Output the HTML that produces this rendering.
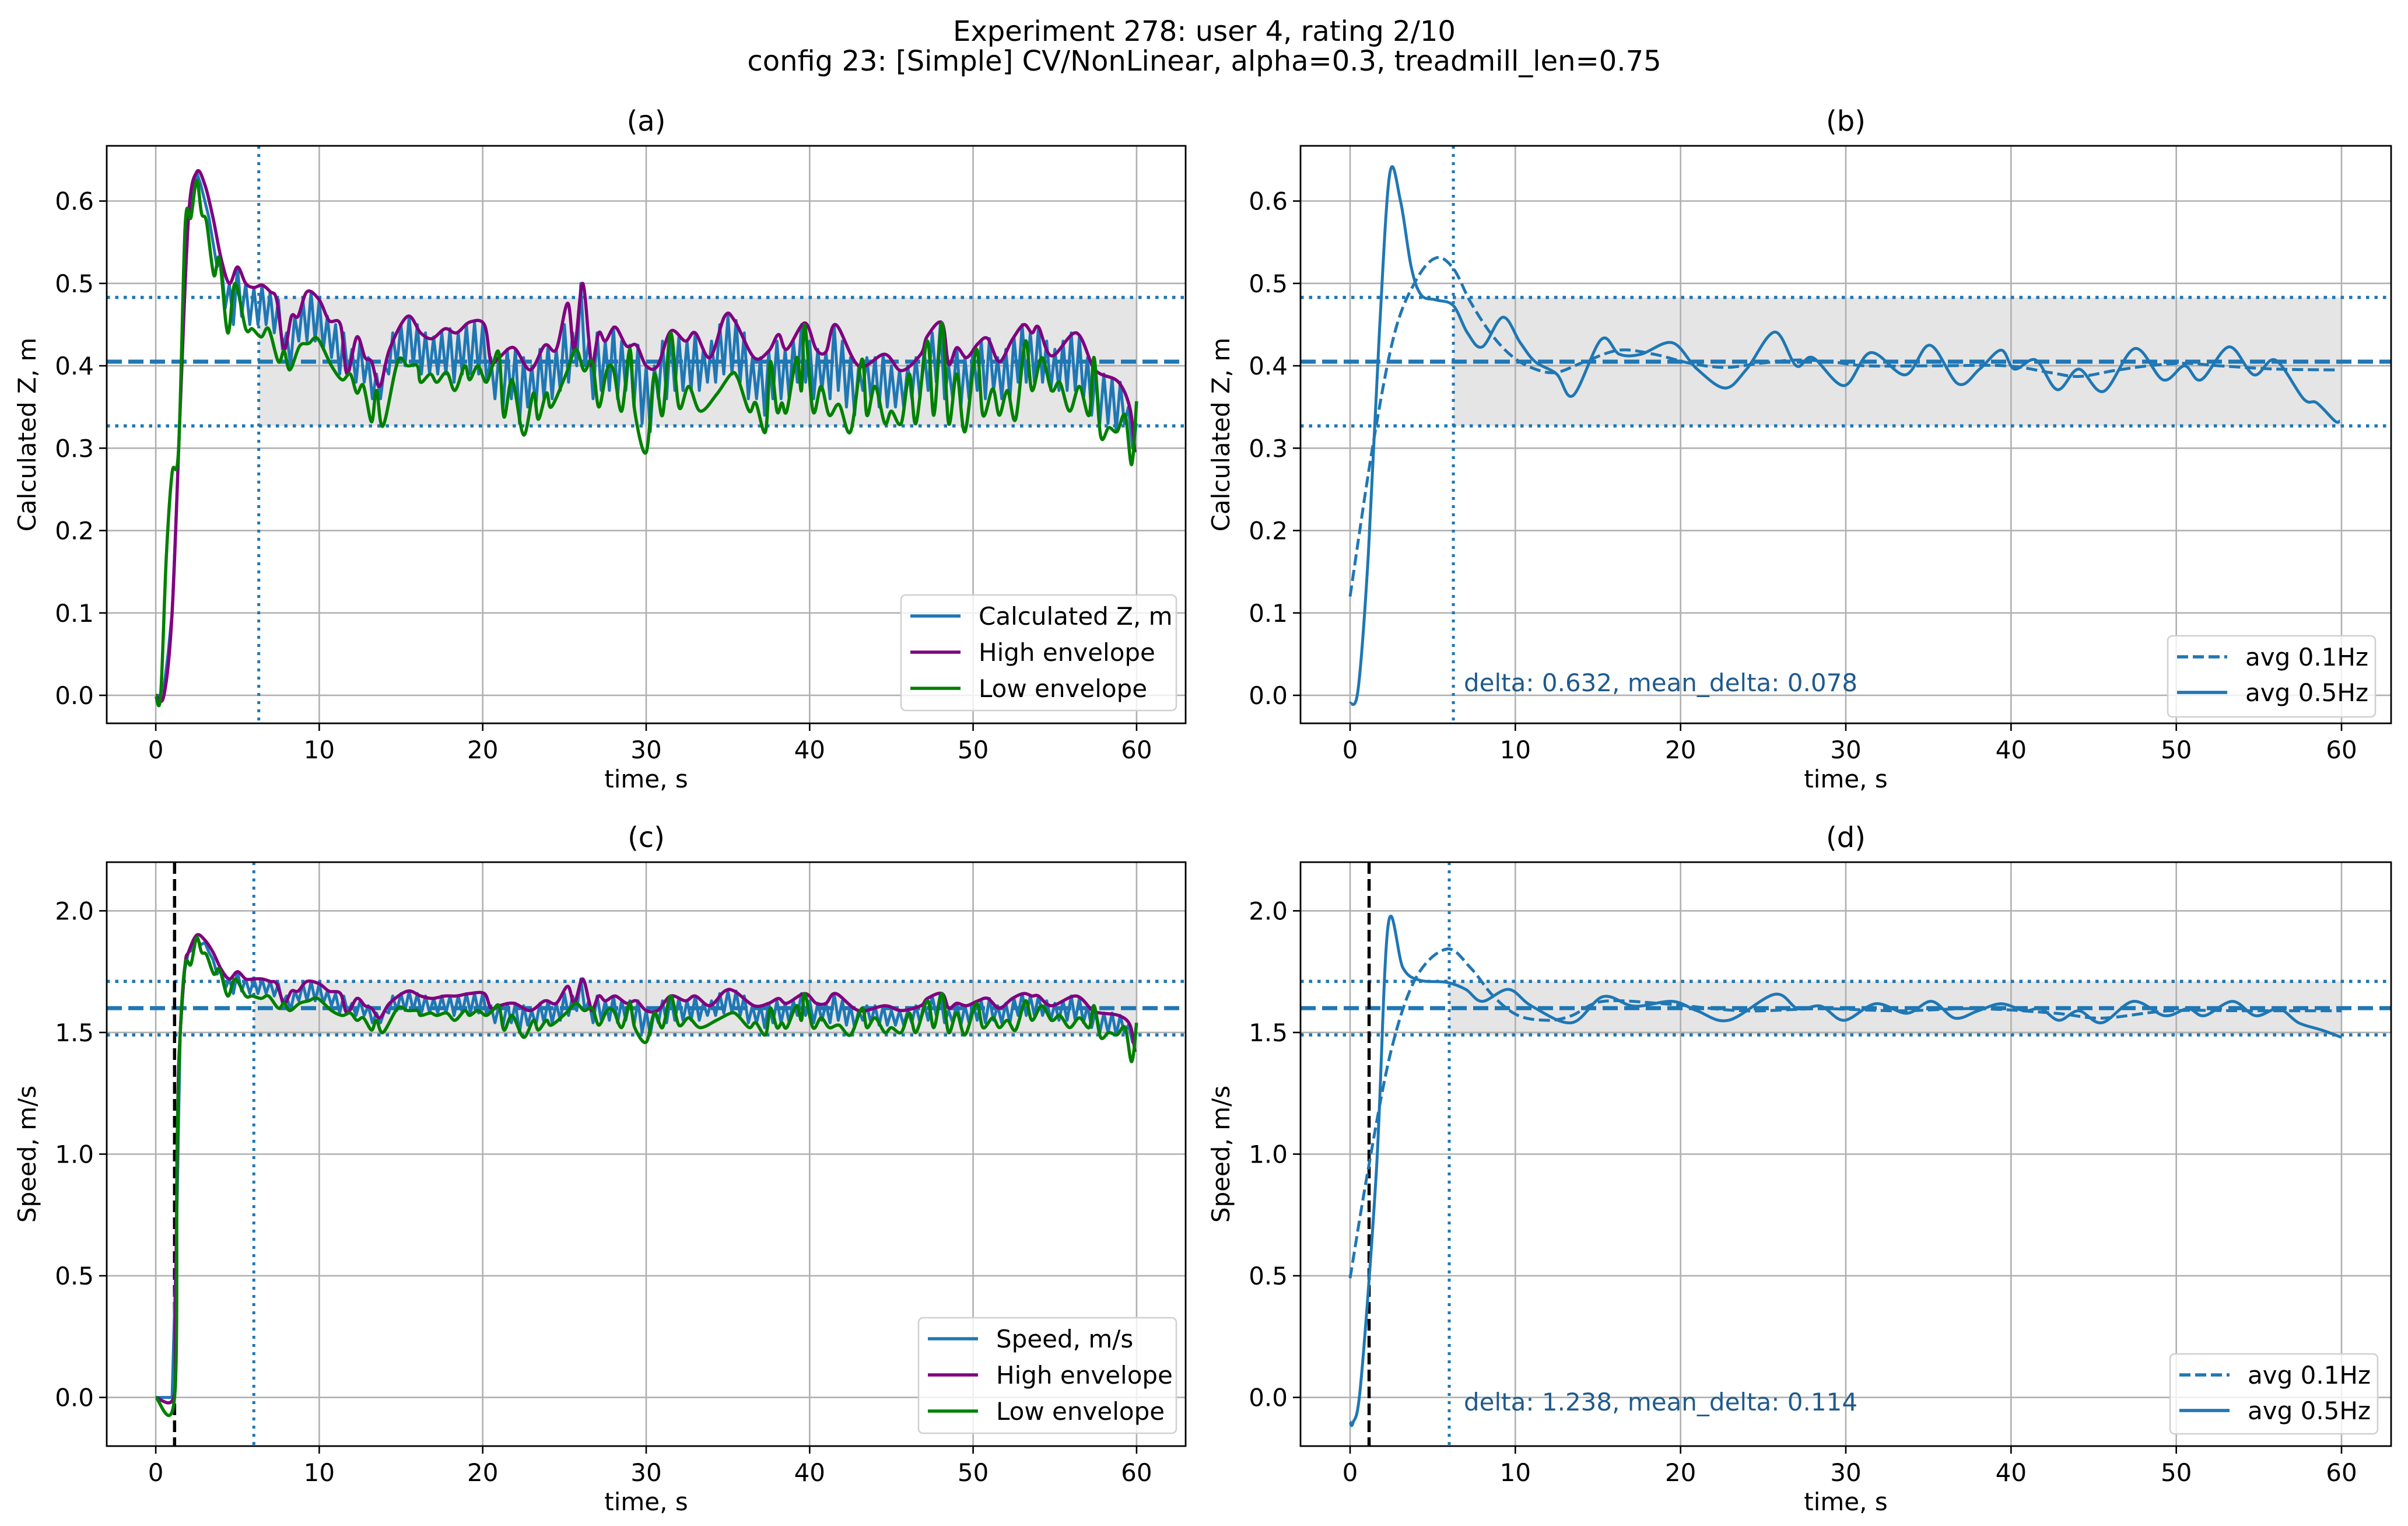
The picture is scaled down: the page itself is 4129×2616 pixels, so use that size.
<!DOCTYPE html>
<html><head><meta charset="utf-8">
<style>
html,body{margin:0;padding:0;background:#fff;}
svg{display:block;}
text{font-family:"DejaVu Sans","Liberation Sans",sans-serif;}
</style></head>
<body>
<svg id="fig" xmlns="http://www.w3.org/2000/svg" width="4129" height="2616" viewBox="0 0 4129 2616">
<rect width="4129" height="2616" fill="#fff"/>
<text x="2065" y="70" font-size="48" text-anchor="middle" fill="#000">Experiment 278: user 4, rating 2/10</text>
<text x="2065" y="121" font-size="48" text-anchor="middle" fill="#000">config 23: [Simple] CV/NonLinear, alpha=0.3, treadmill_len=0.75</text>
</svg>
<script>
// ---------- data ----------
const xTicks = [0,10,20,30,40,50,60];
const zTicks = [0.0,0.1,0.2,0.3,0.4,0.5,0.6];
const zTickLabels = ["0.0","0.1","0.2","0.3","0.4","0.5","0.6"];
const sTicks = [0.0,0.5,1.0,1.5,2.0];
const sTickLabels = ["0.0","0.5","1.0","1.5","2.0"];

const zStep = 0.25;
const calcZ = [0,0,0.01,0.05,0.1,0.22,0.35,0.48,0.58,0.6,0.635,0.62,0.6,0.58,0.55,0.52,
0.53,0.47,0.50,0.45,0.52,0.46,0.50,0.45,
0.495,0.45,0.498,0.45,0.49,0.44,0.48,0.42,
0.44,0.40,0.46,0.43,0.48,0.43,0.49,0.43,
0.48,0.42,0.46,0.41,0.45,0.39,0.44,0.39,
0.42,0.38,0.43,0.38,0.41,0.36,0.39,0.36,
0.40,0.39,0.44,0.40,0.45,0.40,0.46,0.40,
0.45,0.39,0.44,0.39,0.435,0.39,0.44,0.39,
0.445,0.38,0.44,0.39,0.45,0.39,0.453,0.39,
0.45,0.38,0.41,0.36,0.415,0.35,0.42,0.36,
0.42,0.33,0.41,0.35,0.40,0.35,0.42,0.36,
0.425,0.36,0.42,0.37,0.45,0.38,0.44,0.40,
0.50,0.40,0.43,0.36,0.44,0.37,0.43,0.37,
0.447,0.36,0.43,0.37,0.425,0.35,0.425,0.33,
0.40,0.32,0.40,0.36,0.43,0.36,0.44,0.37,
0.435,0.37,0.43,0.37,0.44,0.37,0.42,0.38,
0.43,0.38,0.45,0.39,0.46,0.39,0.455,0.38,
0.44,0.36,0.41,0.36,0.41,0.34,0.418,0.36,
0.43,0.36,0.42,0.36,0.43,0.38,0.45,0.38,
0.43,0.36,0.42,0.37,0.417,0.36,0.45,0.37,
0.43,0.35,0.41,0.34,0.40,0.37,0.41,0.36,
0.41,0.35,0.414,0.35,0.40,0.35,0.395,0.35,
0.40,0.36,0.41,0.36,0.42,0.37,0.44,0.38,
0.452,0.36,0.40,0.36,0.422,0.35,0.41,0.36,
0.42,0.37,0.43,0.36,0.433,0.37,0.41,0.36,
0.42,0.36,0.435,0.38,0.45,0.38,0.44,0.38,
0.447,0.38,0.43,0.37,0.42,0.37,0.43,0.37,
0.44,0.37,0.435,0.36,0.41,0.34,0.395,0.33,
0.39,0.33,0.385,0.32,0.38,0.33,0.35,0.30,
0.33];
const zHighEnv = [[0,0],[0.5,0],[1,0.1],[1.5,0.35],[2,0.58],[2.5,0.635],[3,0.62],[3.5,0.58],[4,0.53],[4.5,0.50],[5,0.52],[5.5,0.50],[6,0.495],[6.5,0.498],[7,0.49],[7.4,0.48],[7.85,0.42],[8.3,0.46],[8.7,0.46],[9.25,0.49],[10,0.48],[10.6,0.455],[11.3,0.45],[11.7,0.39],[12.3,0.435],[12.8,0.41],[13.2,0.405],[13.7,0.375],[14.3,0.42],[15.4,0.46],[16.2,0.44],[16.9,0.433],[17.7,0.445],[18.4,0.44],[19.2,0.453],[20.1,0.45],[20.5,0.405],[21,0.41],[21.9,0.422],[22.9,0.395],[23.8,0.425],[24.5,0.42],[25.2,0.476],[25.6,0.42],[26.1,0.50],[26.5,0.43],[26.7,0.40],[27.1,0.44],[27.5,0.43],[28.1,0.447],[28.8,0.424],[29.4,0.425],[30,0.40],[30.7,0.40],[31.5,0.442],[32.4,0.43],[33,0.44],[33.9,0.41],[34.8,0.46],[35.4,0.455],[36.6,0.41],[37.5,0.418],[38.1,0.438],[38.6,0.42],[39.7,0.452],[40.4,0.42],[41,0.417],[41.6,0.45],[43,0.40],[44.6,0.414],[45.6,0.394],[46.8,0.414],[47.2,0.436],[48.1,0.452],[48.5,0.402],[49,0.422],[49.6,0.41],[50.3,0.427],[50.9,0.433],[51.6,0.405],[52.4,0.432],[53.1,0.45],[53.6,0.44],[54,0.447],[54.8,0.412],[56.3,0.44],[57.3,0.40],[57.8,0.39],[58.9,0.38],[59.6,0.348],[59.9,0.295]];
const zLowEnv = [[0,0],[0.3,0],[0.65,0.17],[1.0,0.27],[1.4,0.30],[1.8,0.57],[2.15,0.58],[2.5,0.625],[2.8,0.585],[3.1,0.575],[3.55,0.51],[3.9,0.53],[4.4,0.44],[4.85,0.50],[5.5,0.445],[5.9,0.445],[6.45,0.435],[6.9,0.445],[7.5,0.405],[7.85,0.418],[8.2,0.395],[8.8,0.424],[9.35,0.427],[9.9,0.433],[10.75,0.40],[11.4,0.383],[11.9,0.39],[12.3,0.367],[12.7,0.376],[13.2,0.332],[13.5,0.37],[13.9,0.327],[14.8,0.405],[15.4,0.40],[16,0.40],[16.2,0.38],[16.8,0.39],[17.2,0.38],[17.8,0.392],[18.3,0.37],[18.9,0.40],[19.2,0.383],[19.7,0.40],[20.2,0.38],[20.6,0.40],[21,0.415],[21.3,0.338],[21.8,0.383],[22.5,0.316],[23.1,0.367],[23.4,0.335],[23.9,0.367],[24.2,0.35],[25.1,0.39],[25.7,0.42],[26.2,0.394],[26.7,0.405],[27.1,0.35],[27.6,0.395],[28,0.395],[28.5,0.345],[29,0.42],[29.3,0.345],[30,0.295],[30.5,0.39],[31,0.34],[31.5,0.44],[32,0.35],[32.6,0.375],[33.3,0.345],[34.3,0.365],[35.2,0.39],[35.6,0.385],[36.3,0.345],[36.7,0.355],[37.3,0.32],[37.6,0.405],[38,0.345],[38.3,0.355],[38.6,0.345],[39.2,0.41],[39.5,0.37],[39.7,0.45],[40.2,0.345],[40.7,0.375],[41.2,0.34],[41.8,0.353],[42.5,0.32],[43.2,0.408],[43.5,0.34],[44,0.375],[44.6,0.33],[45,0.345],[45.6,0.33],[46.1,0.39],[46.5,0.33],[47.2,0.43],[47.6,0.34],[48.1,0.452],[48.5,0.33],[49,0.39],[49.5,0.32],[50.2,0.42],[50.6,0.34],[51.2,0.372],[51.6,0.34],[52.1,0.37],[52.6,0.335],[53.2,0.43],[53.6,0.37],[54.2,0.41],[54.8,0.37],[55.3,0.38],[55.9,0.345],[56.5,0.375],[57.1,0.34],[57.4,0.41],[57.8,0.315],[58.3,0.325],[58.8,0.32],[59.3,0.34],[59.7,0.28],[60,0.357]];

const zAvg05 = [[0,-0.01],[0.49,0.008],[1.1,0.17],[1.77,0.44],[2.4,0.633],[3.05,0.6],[3.7,0.52],[4.3,0.486],[5.2,0.48],[6.25,0.473],[7.1,0.44],[8.0,0.423],[9.25,0.459],[10.3,0.428],[11.2,0.405],[12.5,0.39],[13.5,0.364],[15.2,0.432],[16.3,0.414],[17.6,0.414],[19.5,0.428],[21,0.396],[22.7,0.373],[24,0.396],[25.7,0.441],[27,0.40],[28,0.41],[29.9,0.376],[31.5,0.416],[33.6,0.389],[35.1,0.425],[36.8,0.378],[38.1,0.396],[39.4,0.419],[40.2,0.396],[41.5,0.407],[42.8,0.371],[44.1,0.396],[45.6,0.369],[47.5,0.421],[49.2,0.383],[50.5,0.40],[51.5,0.383],[53.2,0.423],[54.7,0.389],[56,0.407],[57.7,0.36],[58.5,0.355],[59.6,0.333],[59.9,0.333]];
const zAvg01 = [[0,0.12],[1.4,0.306],[2.7,0.44],[4.0,0.504],[5.2,0.531],[6.25,0.518],[7.3,0.477],[8.6,0.437],[9.9,0.41],[11.2,0.396],[12.5,0.392],[14.2,0.405],[16.3,0.419],[18.4,0.414],[20.6,0.403],[22.7,0.398],[24.8,0.403],[27,0.407],[29.1,0.405],[31.2,0.40],[35.5,0.40],[39.7,0.40],[42.3,0.392],[44.1,0.387],[46.2,0.394],[48.3,0.40],[50.5,0.403],[52.6,0.40],[56,0.396],[59.6,0.395]];
const zMean = 0.405, zBandLow = 0.327, zBandHigh = 0.483, zSettleTime = 6.3;

const sStep = 0.25;
const speed = [0,0,0,0,0,0.6,1.5,1.75,1.83,1.84,1.89,1.86,1.87,1.83,1.80,1.74,
1.76,1.68,1.72,1.66,1.75,1.67,1.72,1.66,
1.72,1.66,1.72,1.66,1.71,1.65,1.70,1.62,
1.65,1.59,1.67,1.63,1.70,1.63,1.71,1.63,
1.70,1.62,1.67,1.61,1.66,1.58,1.65,1.58,
1.62,1.57,1.63,1.57,1.61,1.54,1.58,1.54,
1.59,1.58,1.65,1.59,1.66,1.59,1.67,1.59,
1.66,1.58,1.65,1.58,1.64,1.58,1.65,1.58,
1.65,1.57,1.65,1.58,1.66,1.58,1.66,1.58,
1.66,1.57,1.61,1.54,1.61,1.53,1.62,1.54,
1.62,1.50,1.61,1.53,1.59,1.53,1.62,1.54,
1.63,1.54,1.62,1.55,1.66,1.57,1.65,1.59,
1.72,1.59,1.63,1.54,1.65,1.55,1.63,1.55,
1.65,1.54,1.63,1.55,1.63,1.53,1.63,1.50,
1.59,1.49,1.59,1.54,1.63,1.54,1.65,1.55,
1.64,1.55,1.63,1.55,1.65,1.55,1.62,1.57,
1.63,1.57,1.66,1.58,1.67,1.58,1.67,1.57,
1.65,1.54,1.61,1.54,1.61,1.52,1.62,1.54,
1.63,1.54,1.62,1.54,1.63,1.57,1.66,1.57,
1.63,1.54,1.62,1.55,1.62,1.54,1.66,1.55,
1.63,1.53,1.61,1.52,1.59,1.55,1.61,1.54,
1.61,1.53,1.61,1.53,1.59,1.53,1.59,1.53,
1.59,1.54,1.61,1.54,1.62,1.55,1.65,1.57,
1.66,1.54,1.59,1.54,1.62,1.53,1.61,1.54,
1.62,1.55,1.63,1.54,1.64,1.55,1.61,1.54,
1.62,1.54,1.64,1.57,1.66,1.57,1.65,1.57,
1.65,1.57,1.63,1.55,1.62,1.55,1.63,1.55,
1.65,1.55,1.64,1.54,1.61,1.52,1.59,1.50,
1.58,1.50,1.58,1.49,1.57,1.50,1.53,1.46,
1.50];
const sHighEnv = [[0,0],[1.1,0],[1.2,0.3],[1.35,1.2],[1.5,1.5],[1.8,1.78],[2.0,1.83],[2.5,1.90],[3,1.88],[3.5,1.83],[4,1.76],[4.5,1.72],[5,1.75],[5.5,1.72],[6,1.72],[6.5,1.72],[7,1.71],[7.4,1.70],[7.85,1.62],[8.3,1.67],[8.7,1.67],[9.25,1.71],[10,1.70],[10.6,1.67],[11.3,1.66],[11.7,1.58],[12.3,1.64],[12.8,1.61],[13.2,1.60],[13.7,1.56],[14.3,1.62],[15.4,1.67],[16.2,1.65],[16.9,1.64],[17.7,1.65],[18.4,1.65],[19.2,1.66],[20.1,1.66],[20.5,1.60],[21,1.61],[21.9,1.62],[22.9,1.59],[23.8,1.63],[24.5,1.62],[25.2,1.69],[25.6,1.62],[26.1,1.72],[26.5,1.63],[26.7,1.59],[27.1,1.65],[27.5,1.63],[28.1,1.65],[28.8,1.62],[29.4,1.63],[30,1.59],[30.7,1.59],[31.5,1.65],[32.4,1.63],[33,1.65],[33.9,1.61],[34.8,1.67],[35.4,1.67],[36.6,1.61],[37.5,1.62],[38.1,1.64],[38.6,1.62],[39.7,1.66],[40.4,1.62],[41,1.62],[41.6,1.66],[43,1.59],[44.6,1.61],[45.6,1.59],[46.8,1.61],[47.2,1.64],[48.1,1.66],[48.5,1.60],[49,1.62],[49.6,1.61],[50.3,1.63],[50.9,1.64],[51.6,1.60],[52.4,1.64],[53.1,1.66],[53.6,1.65],[54,1.65],[54.8,1.61],[56.3,1.65],[57.3,1.59],[57.8,1.58],[58.9,1.57],[59.6,1.53],[59.9,1.42]];
const sLowEnv = [[0,0],[1.15,0],[1.3,1.0],[1.5,1.5],[1.8,1.78],[2.15,1.78],[2.5,1.89],[2.8,1.83],[3.1,1.82],[3.55,1.74],[3.9,1.76],[4.4,1.65],[4.85,1.72],[5.5,1.65],[5.9,1.65],[6.45,1.64],[6.9,1.65],[7.5,1.60],[7.85,1.62],[8.2,1.59],[8.8,1.62],[9.35,1.63],[9.9,1.64],[10.75,1.59],[11.4,1.57],[11.9,1.58],[12.3,1.55],[12.7,1.56],[13.2,1.51],[13.5,1.55],[13.9,1.50],[14.8,1.60],[15.4,1.59],[16,1.59],[16.2,1.57],[16.8,1.58],[17.2,1.57],[17.8,1.58],[18.3,1.55],[18.9,1.59],[19.2,1.57],[19.7,1.59],[20.2,1.57],[20.6,1.59],[21,1.61],[21.3,1.51],[21.8,1.57],[22.5,1.48],[23.1,1.55],[23.4,1.51],[23.9,1.55],[24.2,1.53],[25.1,1.58],[25.7,1.62],[26.2,1.59],[26.7,1.60],[27.1,1.53],[27.6,1.59],[28,1.59],[28.5,1.52],[29,1.62],[29.3,1.52],[30,1.46],[30.5,1.58],[31,1.52],[31.5,1.65],[32,1.53],[32.6,1.56],[33.3,1.52],[34.3,1.55],[35.2,1.58],[35.6,1.57],[36.3,1.52],[36.7,1.54],[37.3,1.49],[37.6,1.60],[38,1.52],[38.3,1.54],[38.6,1.52],[39.2,1.61],[39.5,1.55],[39.7,1.66],[40.2,1.52],[40.7,1.56],[41.2,1.52],[41.8,1.53],[42.5,1.49],[43.2,1.60],[43.5,1.52],[44,1.56],[44.6,1.50],[45,1.52],[45.6,1.50],[46.1,1.58],[46.5,1.50],[47.2,1.63],[47.6,1.52],[48.1,1.66],[48.5,1.50],[49,1.58],[49.5,1.49],[50.2,1.62],[50.6,1.52],[51.2,1.56],[51.6,1.52],[52.1,1.55],[52.6,1.51],[53.2,1.63],[53.6,1.55],[54.2,1.61],[54.8,1.55],[55.3,1.57],[55.9,1.52],[56.5,1.56],[57.1,1.52],[57.4,1.61],[57.8,1.48],[58.3,1.50],[58.8,1.49],[59.3,1.52],[59.7,1.38],[60,1.54]];

const sAvg05 = [[0,-0.1],[0.17,-0.105],[0.65,0.06],[1.6,0.94],[2.3,1.94],[3.2,1.765],[4.2,1.715],[5.85,1.706],[7,1.677],[8,1.628],[9.6,1.677],[11,1.608],[13.4,1.54],[15.3,1.647],[17.2,1.608],[19.5,1.628],[21,1.589],[22.9,1.55],[25.7,1.657],[27.1,1.598],[28.5,1.608],[29.9,1.55],[31.8,1.618],[33.7,1.579],[35.2,1.628],[36.6,1.559],[38,1.589],[39.4,1.618],[40.8,1.589],[41.8,1.598],[42.9,1.55],[44.1,1.589],[45.5,1.54],[47.4,1.628],[49.3,1.569],[50.7,1.598],[51.7,1.569],[53.4,1.628],[54.8,1.569],[56.2,1.598],[57.4,1.54],[58.8,1.51],[60,1.48]];
const sAvg01 = [[0,0.49],[1.1,0.94],[2.5,1.43],[4.0,1.726],[5.85,1.843],[7.3,1.765],[8.7,1.647],[10.2,1.569],[12,1.55],[13.4,1.569],[15.3,1.628],[19,1.618],[23.8,1.589],[28.5,1.598],[33.2,1.589],[38,1.598],[42.7,1.579],[45.5,1.559],[49.6,1.589],[54.5,1.589],[60,1.589]];
const sMean = 1.60, sBandLow = 1.49, sBandHigh = 1.71, sSettleTime = 6.0, sStartTime = 1.15;

// ---------- drawing ----------
const NS = "http://www.w3.org/2000/svg";
const svg = document.getElementById("fig");
const BLUE = "#1f77b4";
function mk(tag, attrs, parent){
  const e = document.createElementNS(NS, tag);
  for (const k in attrs) e.setAttribute(k, attrs[k]);
  (parent||svg).appendChild(e);
  return e;
}
function makeAxes(box, xmin, xmax, ymin, ymax){
  return {
    box,
    x: v => box.l + (v - xmin) / (xmax - xmin) * (box.r - box.l),
    y: v => box.b - (v - ymin) / (ymax - ymin) * (box.b - box.t)
  };
}
function smoothPath(pts){
  let d = "M"+pts[0][0].toFixed(1)+","+pts[0][1].toFixed(1);
  for (let i=0;i<pts.length-1;i++){
    const p0 = pts[Math.max(i-1,0)], p1 = pts[i], p2 = pts[i+1], p3 = pts[Math.min(i+2,pts.length-1)];
    const c1x = p1[0] + (p2[0]-p0[0])/6, c1y = p1[1] + (p2[1]-p0[1])/6;
    const c2x = p2[0] - (p3[0]-p1[0])/6, c2y = p2[1] - (p3[1]-p1[1])/6;
    d += "C"+c1x.toFixed(1)+","+c1y.toFixed(1)+" "+c2x.toFixed(1)+","+c2y.toFixed(1)+" "+p2[0].toFixed(1)+","+p2[1].toFixed(1);
  }
  return d;
}
function pathFromPairs(ax, pairs){
  return smoothPath(pairs.map(p=>[ax.x(p[0]), ax.y(p[1])]));
}
function pathFromSeries(ax, vals, step){
  return vals.map((v,i)=>(i?"L":"M")+ax.x(i*step).toFixed(1)+","+ax.y(v).toFixed(1)).join("");
}

function drawFrame(g, ax, yTicks, yLabels, title, ylabel, id){
  const b = ax.box;
  xTicks.forEach(t=>{
    const l = mk("line",{x1:ax.x(t),x2:ax.x(t),y1:b.t,y2:b.b,stroke:"#b0b0b0","stroke-width":2.6},g);
    
    
  });
  yTicks.forEach(t=>{
    const l = mk("line",{x1:b.l,x2:b.r,y1:ax.y(t),y2:ax.y(t),stroke:"#b0b0b0","stroke-width":2.6},g);
    
    
  });
  xTicks.forEach(t=>{
    mk("line",{x1:ax.x(t),x2:ax.x(t),y1:b.b,y2:b.b+13,stroke:"#000","stroke-width":2.6},g);
    const tx = mk("text",{x:ax.x(t),y:b.b+60,"font-size":42,"text-anchor":"middle",fill:"#000"},g);
    tx.textContent = String(t);
    
    
  });
  yTicks.forEach((t,i)=>{
    mk("line",{x1:b.l-13,x2:b.l,y1:ax.y(t),y2:ax.y(t),stroke:"#000","stroke-width":2.6},g);
    const tx = mk("text",{x:b.l-22,y:ax.y(t)+15,"font-size":42,"text-anchor":"end",fill:"#000"},g);
    tx.textContent = yLabels[i];
    
    
  });
  const tt = mk("text",{x:(b.l+b.r)/2,y:b.t-26,"font-size":48,"text-anchor":"middle",fill:"#000"},g);
  tt.textContent = title;
  
  
  const xl = mk("text",{x:(b.l+b.r)/2,y:b.b+110,"font-size":42,"text-anchor":"middle",fill:"#000"},g);
  xl.textContent = "time, s";
  
  
  const cy = (b.t+b.b)/2, cx = b.l-122;
  const yl = mk("text",{x:cx,y:cy,"font-size":42,"text-anchor":"middle",fill:"#000",transform:`rotate(-90 ${cx} ${cy})`},g);
  yl.textContent = ylabel;
  
  
}
function drawSpine(g, ax){
  const b = ax.box;
  const r = mk("rect",{x:b.l,y:b.t,width:b.r-b.l,height:b.b-b.t,fill:"none",stroke:"#000","stroke-width":2.8},g);
  
  
}
function drawBands(g, ax, mean, lo, hi, tSettle, tStart){
  const b = ax.box;
  const f = mk("rect",{x:ax.x(tSettle),y:ax.y(hi),width:ax.x(60)-ax.x(tSettle),height:ax.y(lo)-ax.y(hi),fill:"#e5e5e5"},g);
  
  
  return ()=>{
    [lo,hi].forEach(v=>{
      const l = mk("line",{x1:b.l,x2:b.r,y1:ax.y(v),y2:ax.y(v),stroke:BLUE,"stroke-width":5.5,"stroke-dasharray":"5.5 9"},g);
      
      
    });
    const m = mk("line",{x1:b.l,x2:b.r,y1:ax.y(mean),y2:ax.y(mean),stroke:BLUE,"stroke-width":7,"stroke-dasharray":"26 11"},g);
    
    
    const v = mk("line",{x1:ax.x(tSettle),x2:ax.x(tSettle),y1:b.t,y2:b.b,stroke:BLUE,"stroke-width":5,"stroke-dasharray":"5 9"},g);
    
    
    if (tStart !== undefined){
      const s = mk("line",{x1:ax.x(tStart),x2:ax.x(tStart),y1:b.t,y2:b.b,stroke:"#000","stroke-width":5.5,"stroke-dasharray":"20 9"},g);
      
      
    }
  };
}
function drawLegend(g, x, y, w, h, entries, rowY){
  const r = mk("rect",{x:x,y:y,width:w,height:h,rx:8,fill:"#fff","fill-opacity":0.8,stroke:"#d0d0d0","stroke-width":2.6},g);
  
  
  entries.forEach((e,i)=>{
    const yy = y + rowY[i];
    const l = mk("line",{x1:x+16,x2:x+102,y1:yy,y2:yy,stroke:e.c,"stroke-width":5.5},g);
    if (e.dash) l.setAttribute("stroke-dasharray", e.dash);
    
    
    const t = mk("text",{x:x+133,y:yy+15,"font-size":42,fill:"#000"},g);
    t.textContent = e.label;
    
    
  });
}
function line(g, d, color, w, name, dash){
  const p = mk("path",{d:d,fill:"none",stroke:color,"stroke-width":w,"stroke-linejoin":"round","stroke-linecap":"butt"},g);
  if (dash) p.setAttribute("stroke-dasharray", dash);
  
  
  return p;
}
function annotation(g, x, y, str){
  const t = mk("text",{x:x,y:y,"font-size":42},g);
  t.setAttribute("style","fill:#1f5a8c");
  t.textContent = str;
  
  
}

// Panel (a)
(function(){
  const g = mk("g",{});
  
  
  const ax = makeAxes({l:183,r:2033,t:250,b:1240}, -3, 63, -0.034, 0.667);
  const after = drawBands(g, ax, zMean, zBandLow, zBandHigh, zSettleTime);
  drawFrame(g, ax, zTicks, zTickLabels, "(a)", "Calculated Z, m", "a");
  after();
  line(g, pathFromSeries(ax, calcZ, zStep), BLUE, 5, "calculated-z-line");
  line(g, pathFromPairs(ax, zHighEnv), "#800080", 5.5, "high-envelope-line");
  line(g, pathFromPairs(ax, zLowEnv), "#008000", 5.5, "low-envelope-line");
  drawSpine(g, ax);
  drawLegend(g, 1545, 1020, 472, 198, [{c:BLUE,label:"Calculated Z, m"},{c:"#800080",label:"High envelope"},{c:"#008000",label:"Low envelope"}],[36,98,160]);
})();
// Panel (b)
(function(){
  const g = mk("g",{});
  
  
  const ax = makeAxes({l:2230,r:4100,t:250,b:1240}, -3, 63, -0.034, 0.667);
  const after = drawBands(g, ax, zMean, zBandLow, zBandHigh, 6.25);
  drawFrame(g, ax, zTicks, zTickLabels, "(b)", "Calculated Z, m", "b");
  after();
  line(g, pathFromPairs(ax, zAvg01), BLUE, 5, "avg-0.1hz-line", "19 8");
  line(g, pathFromPairs(ax, zAvg05), BLUE, 5, "avg-0.5hz-line");
  annotation(g, 2510, 1185, "delta: 0.632, mean_delta: 0.078");
  drawSpine(g, ax);
  drawLegend(g, 3717, 1090, 356, 139, [{c:BLUE,label:"avg 0.1Hz",dash:"19 8"},{c:BLUE,label:"avg 0.5Hz"}],[36,97]);
})();
// Panel (c)
(function(){
  const g = mk("g",{});
  
  
  const ax = makeAxes({l:183,r:2033,t:1478,b:2479}, -3, 63, -0.2, 2.2);
  const after = drawBands(g, ax, sMean, sBandLow, sBandHigh, sSettleTime, sStartTime);
  drawFrame(g, ax, sTicks, sTickLabels, "(c)", "Speed, m/s", "c");
  after();
  line(g, pathFromSeries(ax, speed, sStep), BLUE, 5, "speed-line");
  line(g, pathFromPairs(ax, sHighEnv), "#800080", 5.5, "high-envelope-line");
  line(g, pathFromPairs(ax, sLowEnv), "#008000", 5.5, "low-envelope-line");
  drawSpine(g, ax);
  drawLegend(g, 1575, 2259, 442, 198, [{c:BLUE,label:"Speed, m/s"},{c:"#800080",label:"High envelope"},{c:"#008000",label:"Low envelope"}],[36,98,160]);
})();
// Panel (d)
(function(){
  const g = mk("g",{});
  
  
  const ax = makeAxes({l:2230,r:4100,t:1478,b:2479}, -3, 63, -0.2, 2.2);
  const after = drawBands(g, ax, sMean, sBandLow, sBandHigh, sSettleTime, sStartTime);
  drawFrame(g, ax, sTicks, sTickLabels, "(d)", "Speed, m/s", "d");
  after();
  line(g, pathFromPairs(ax, sAvg01), BLUE, 5, "avg-0.1hz-line", "19 8");
  line(g, pathFromPairs(ax, sAvg05), BLUE, 5, "avg-0.5hz-line");
  annotation(g, 2510, 2418, "delta: 1.238, mean_delta: 0.114");
  drawSpine(g, ax);
  drawLegend(g, 3721, 2321, 356, 137, [{c:BLUE,label:"avg 0.1Hz",dash:"19 8"},{c:BLUE,label:"avg 0.5Hz"}],[36,97]);
})();
</script>
</body></html>
